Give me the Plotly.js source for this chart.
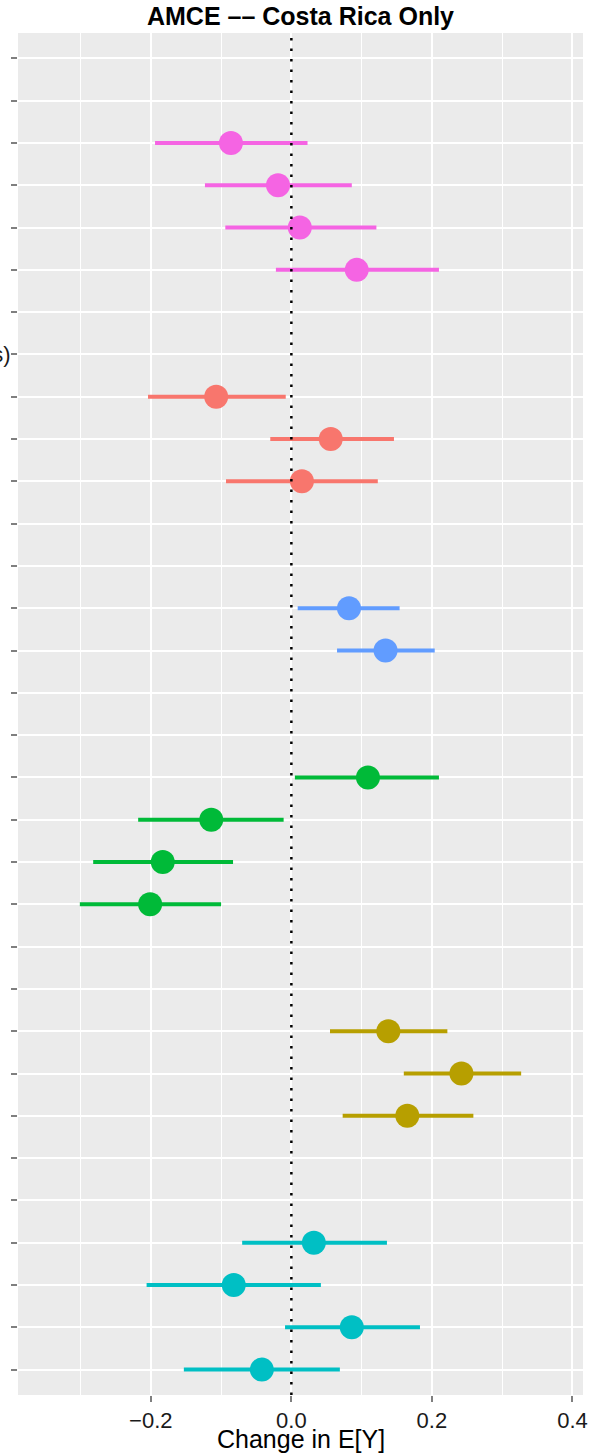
<!DOCTYPE html>
<html>
<head>
<meta charset="utf-8">
<script src="https://cdn.plot.ly/plotly-3.0.1.min.js"></script>
<style>html,body{margin:0;padding:0;background:#fff;}#chart{width:604px;height:1454px;}</style>
</head>
<body>
<div id="chart"></div>
<script>
// Row positions (1 = top row) and tick labels (most labels fall outside the cropped picture)
const rowCount = 32;
const tickLabels = ["", "", "", "", "", "", "", "Age (in years)", "", "", "", "", "", "", "", "",
  "", "", "", "", "", "", "", "", "", "", "", "", "", "", "", ""];

// Series: rows, point estimates, lower and upper 95% bounds
const pinkRows = [3, 4, 5, 6];
const pinkEst  = [-0.086, -0.019, 0.012, 0.093];
const pinkLo   = [-0.194, -0.123, -0.094, -0.022];
const pinkHi   = [0.023, 0.086, 0.121, 0.210];

const redRows = [9, 10, 11];
const redEst  = [-0.107, 0.056, 0.015];
const redLo   = [-0.204, -0.030, -0.093];
const redHi   = [-0.008, 0.146, 0.123];

const blueRows = [14, 15];
const blueEst  = [0.082, 0.134];
const blueLo   = [0.009, 0.065];
const blueHi   = [0.154, 0.204];

const greenRows = [18, 19, 20, 21];
const greenEst  = [0.109, -0.114, -0.183, -0.201];
const greenLo   = [0.005, -0.218, -0.282, -0.301];
const greenHi   = [0.210, -0.011, -0.083, -0.100];

const oliveRows = [24, 25, 26];
const oliveEst  = [0.138, 0.242, 0.165];
const oliveLo   = [0.055, 0.160, 0.073];
const oliveHi   = [0.222, 0.327, 0.259];

const cyanRows = [29, 30, 31, 32];
const cyanEst  = [0.032, -0.082, 0.086, -0.042];
const cyanLo   = [-0.070, -0.206, -0.009, -0.153];
const cyanHi   = [0.136, 0.042, 0.183, 0.069];

const xTickVals = [-0.2, 0.0, 0.2, 0.4];
const xTickText = ["\u22120.2", "0.0", "0.2", "0.4"];

const groups = [
  {rows: pinkRows, est: pinkEst, lo: pinkLo, hi: pinkHi, color: "#F564E3"},
  {rows: redRows, est: redEst, lo: redLo, hi: redHi, color: "#F8766D"},
  {rows: blueRows, est: blueEst, lo: blueLo, hi: blueHi, color: "#619CFF"},
  {rows: greenRows, est: greenEst, lo: greenLo, hi: greenHi, color: "#00BA38"},
  {rows: oliveRows, est: oliveEst, lo: oliveLo, hi: oliveHi, color: "#B79F00"},
  {rows: cyanRows, est: cyanEst, lo: cyanLo, hi: cyanHi, color: "#00BFC4"}
];

const traces = groups.map(g => ({
  type: "scatter",
  mode: "markers",
  x: g.est,
  y: g.rows,
  marker: {color: g.color, size: 24, line: {width: 0}},
  error_x: {
    type: "data", symmetric: false,
    array: g.est.map((v, i) => g.hi[i] - v),
    arrayminus: g.est.map((v, i) => v - g.lo[i]),
    color: g.color, thickness: 4, width: 0
  },
  hoverinfo: "skip",
  showlegend: false
}));

const tickVals = Array.from({length: rowCount}, (_, i) => i + 1);

const layout = {
  width: 604, height: 1454,
  margin: {l: 18, r: 21, t: 33, b: 59},
  paper_bgcolor: "#ffffff",
  plot_bgcolor: "#EBEBEB",
  font: {family: "Liberation Sans, Arial, sans-serif", color: "#1a1a1a"},
  title: {
    text: "<b>AMCE –– Costa Rica Only</b>",
    font: {size: 25, color: "#000000"},
    x: 0.5, xanchor: "center", xref: "paper",
    y: 1, yref: "container", yanchor: "top", pad: {t: 7}
  },
  xaxis: {
    range: [-0.389, 0.415],
    tickvals: xTickVals,
    ticktext: xTickText,
    ticks: "outside", ticklen: 6, tickwidth: 2, tickcolor: "#7f7f7f",
    tickfont: {size: 22, color: "#1a1a1a"},
    ticklabelstandoff: 0,
    showgrid: true, gridcolor: "#ffffff", gridwidth: 2,
    minor: {tickvals: [-0.3, -0.1, 0.1, 0.3], showgrid: true, gridcolor: "#ffffff", gridwidth: 1, ticks: ""},
    zeroline: false, showline: false,
    fixedrange: true
  },
  yaxis: {
    range: [32.6, 0.4],
    tickvals: tickVals,
    ticktext: tickLabels,
    ticks: "outside", ticklen: 6, tickwidth: 2, tickcolor: "#7f7f7f",
    tickfont: {size: 22, color: "#1a1a1a"},
    ticklabelstandoff: -4,
    showgrid: true, gridcolor: "#ffffff", gridwidth: 2,
    zeroline: false, showline: false,
    automargin: false,
    fixedrange: true
  },
  annotations: [{
    text: "Change in E[Y]",
    xref: "paper", yref: "paper", x: 0.5, y: 0,
    xanchor: "center", yanchor: "top", yshift: -28,
    showarrow: false,
    font: {size: 25, color: "#000000"}
  }],
  shapes: [{
    type: "line", xref: "x", yref: "paper",
    x0: 0, x1: 0, y0: 0, y1: 1,
    line: {color: "#000000", width: 2.5, dash: "2.5px,8px"},
    layer: "above"
  }]
};

Plotly.newPlot("chart", traces, layout, {staticPlot: true, displayModeBar: false});
</script>
</body>
</html>
